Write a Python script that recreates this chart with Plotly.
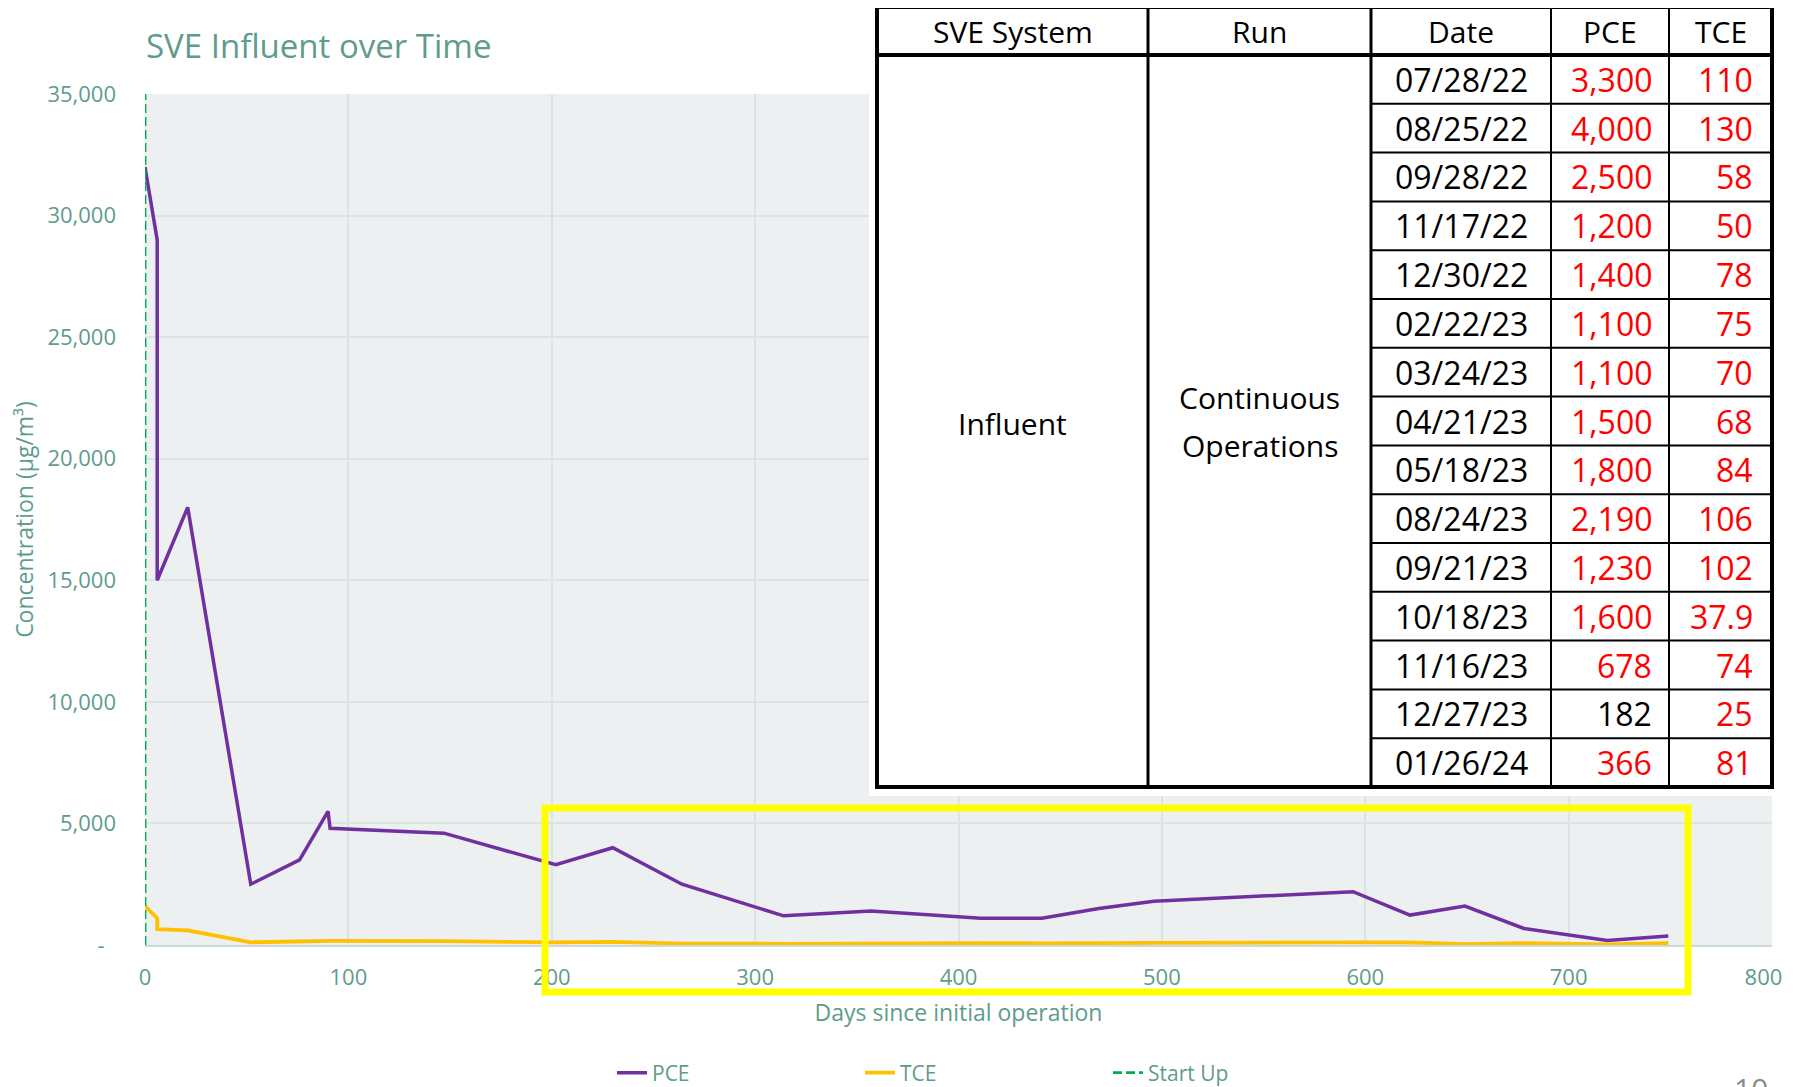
import plotly.graph_objects as go

# ---------------- chart data ----------------
pce_days = [0, 6, 6, 21, 52, 76, 90, 91, 147, 202, 230, 264, 314, 357, 411, 441,
            469, 496, 594, 622, 649, 678, 719, 749]
pce_vals = [32000, 29000, 15000, 18000, 2500, 3500, 5500, 4800, 4600, 3300, 4000,
            2500, 1200, 1400, 1100, 1100, 1500, 1800, 2190, 1230, 1600, 678, 182, 366]
tce_days = [0, 6, 6, 21, 52, 76, 90, 91, 147, 202, 230, 264, 314, 357, 411, 441,
            469, 496, 594, 622, 649, 678, 719, 749]
tce_vals = [1600, 1100, 650, 600, 110, 130, 180, 170, 160, 110, 130, 58, 50, 78,
            75, 70, 68, 84, 106, 102, 37.9, 74, 25, 81]
startup_x = [0, 0]
startup_y = [0, 35000]

x_ticks = [0, 100, 200, 300, 400, 500, 600, 700, 800]
x_ticklabels = ["0", "100", "200", "300", "400", "500", "600", "700", "800\u00a0\u00a0\u00a0"]
y_ticks = [0, 5000, 10000, 15000, 20000, 25000, 30000, 35000]
y_ticklabels = ["-\u00a0\u00a0", "5,000", "10,000", "15,000", "20,000", "25,000", "30,000", "35,000"]

# ---------------- table data ----------------
table_header = ["SVE System", "Run", "Date", "PCE", "TCE"]
table_system = "Influent"
table_run = ["Continuous", "Operations"]
table_dates = ["07/28/22", "08/25/22", "09/28/22", "11/17/22", "12/30/22", "02/22/23",
               "03/24/23", "04/21/23", "05/18/23", "08/24/23", "09/21/23", "10/18/23",
               "11/16/23", "12/27/23", "01/26/24"]
table_pce = ["3,300", "4,000", "2,500", "1,200", "1,400", "1,100", "1,100", "1,500",
             "1,800", "2,190", "1,230", "1,600", "678", "182", "366"]
table_tce = ["110", "130", "58", "50", "78", "75", "70", "68", "84", "106", "102",
             "37.9", "74", "25", "81"]
pce_flag_red = [1, 1, 1, 1, 1, 1, 1, 1, 1, 1, 1, 1, 1, 0, 1]

# ---------------- styling / geometry ----------------
# the page body has an 8px margin, so the figure is sized to fill the window from there
OFF = 8
W, H = 1795 - OFF, 1087 - OFF
# plot area in window pixels
L, R, T, B = 145, 1772, 94, 945
TEAL = "#5E9C8C"
FONT = "Open Sans"


def px(x):
    return (x - L) / (R - L)


def py(y):
    return (B - y) / (B - T)


fig = go.Figure()
fig.add_trace(go.Scatter(x=pce_days, y=pce_vals, mode="lines", name="PCE",
                         line=dict(color="#7030A0", width=3.5)))
fig.add_trace(go.Scatter(x=tce_days, y=tce_vals, mode="lines", name="TCE",
                         line=dict(color="#FFC000", width=3.8)))
fig.add_trace(go.Scatter(x=startup_x, y=startup_y, mode="lines", name="Start Up",
                         line=dict(color="#00B050", width=2.8, dash="9px,4px")))

shapes = []
annotations = []

# white background behind table
shapes.append(dict(type="rect", xref="paper", yref="paper", layer="above",
                   x0=px(869), x1=px(1800), y0=py(796), y1=py(0),
                   fillcolor="white", line=dict(width=0)))

col_edges = [877, 1148, 1371, 1551, 1669, 1772]
top_y, head_y, bot_y = 7, 55, 787
n = len(table_dates)
row_h = (bot_y - head_y) / n


def hline(x0, x1, y, w):
    shapes.append(dict(type="line", xref="paper", yref="paper", layer="above",
                       x0=px(x0), x1=px(x1), y0=py(y), y1=py(y),
                       line=dict(color="black", width=w)))


def vline(x, y0, y1, w):
    shapes.append(dict(type="line", xref="paper", yref="paper", layer="above",
                       x0=px(x), x1=px(x), y0=py(y0), y1=py(y1),
                       line=dict(color="black", width=w)))


# row separators in the right three columns
for i in range(1, n):
    y = head_y + i * row_h
    hline(col_edges[2], col_edges[5], y, 2)
# inner vertical lines
vline(col_edges[1], top_y, bot_y, 3)
vline(col_edges[2], top_y, bot_y, 3)
vline(col_edges[3], top_y, bot_y, 2)
vline(col_edges[4], top_y, bot_y, 2)
# header bottom
hline(col_edges[0], col_edges[5], head_y, 4)
# outer border
shapes.append(dict(type="rect", xref="paper", yref="paper", layer="above",
                   x0=px(col_edges[0]), x1=px(col_edges[5]), y0=py(bot_y), y1=py(top_y),
                   line=dict(color="black", width=4), fillcolor="rgba(0,0,0,0)"))

TFS = 30
DFS = 32
for j, h in enumerate(table_header):
    annotations.append(dict(xref="paper", yref="paper", x=px((col_edges[j] + col_edges[j + 1]) / 2),
                            y=py((top_y + head_y) / 2 + 1), text=h, showarrow=False,
                            xanchor="center", yanchor="middle",
                            font=dict(family=FONT, size=TFS, color="black")))

mid_y = (head_y + bot_y) / 2
annotations.append(dict(xref="paper", yref="paper", x=px((col_edges[0] + col_edges[1]) / 2),
                        y=py(mid_y + 2), text=table_system, showarrow=False,
                        xanchor="center", yanchor="middle",
                        font=dict(family=FONT, size=TFS, color="black")))
for k, t in enumerate(table_run):
    annotations.append(dict(xref="paper", yref="paper", x=px((col_edges[1] + col_edges[2]) / 2),
                            y=py(mid_y - 24 + 48 * k), text=t, showarrow=False,
                            xanchor="center", yanchor="middle",
                            font=dict(family=FONT, size=TFS, color="black")))

for i in range(n):
    yc = py(head_y + (i + 0.5) * row_h)
    annotations.append(dict(xref="paper", yref="paper", x=px((col_edges[2] + col_edges[3]) / 2),
                            y=yc, text=table_dates[i], showarrow=False,
                            xanchor="center", yanchor="middle",
                            font=dict(family=FONT, size=DFS, color="black")))
    annotations.append(dict(xref="paper", yref="paper", x=px(col_edges[4] - 15),
                            y=yc, text=table_pce[i], showarrow=False,
                            xanchor="right", yanchor="middle",
                            font=dict(family=FONT, size=DFS,
                                      color="#FF0000" if pce_flag_red[i] else "black")))
    annotations.append(dict(xref="paper", yref="paper", x=px(col_edges[5] - 17),
                            y=yc, text=table_tce[i], showarrow=False,
                            xanchor="right", yanchor="middle",
                            font=dict(family=FONT, size=DFS, color="#FF0000")))

# yellow highlight box
shapes.append(dict(type="rect", xref="paper", yref="paper", layer="above",
                   x0=px(545), x1=px(1688), y0=py(992), y1=py(808),
                   line=dict(color="#FFFF00", width=7), fillcolor="rgba(0,0,0,0)"))

# page number (partly cut by the slide edge, as in the source)
annotations.append(dict(xref="paper", yref="paper", x=px(1751), y=py(1066),
                        text="10", showarrow=False, xanchor="center", yanchor="top",
                        font=dict(family=FONT, size=30, color="#8A8A8A")))

fig.update_layout(
    width=W, height=H,
    margin=dict(l=L - OFF, r=W - (R - OFF), t=T - OFF, b=H - (B - OFF), pad=0,
                autoexpand=False),
    paper_bgcolor="white",
    plot_bgcolor="#ECF0F0",
    font=dict(family=FONT, color=TEAL, size=21),
    title=dict(text="SVE Influent over Time", x=(146 - OFF) / W, xref="container",
               xanchor="left", y=1 - (46 - OFF) / H, yanchor="middle",
               font=dict(family=FONT, size=33, color=TEAL)),
    xaxis=dict(range=[0, 800], tickvals=x_ticks, ticktext=x_ticklabels, showgrid=True,
               gridcolor="#DAE4E2", gridwidth=1.5, zeroline=False, showline=True,
               linecolor="#CCDAD7", linewidth=2, ticklabeloverflow="allow",
               ticks="", ticklabelstandoff=12, automargin=False,
               tickfont=dict(family=FONT, size=22, color=TEAL),
               title=dict(text="Days since initial operation", standoff=14,
                          font=dict(family=FONT, size=23, color=TEAL))),
    yaxis=dict(range=[0, 35000], tickvals=y_ticks, ticktext=y_ticklabels, showgrid=True,
               gridcolor="#DAE4E2", gridwidth=1.5, zeroline=False, ticks="",
               ticklabelstandoff=28, automargin=False, ticklabeloverflow="allow",
               tickfont=dict(family=FONT, size=22, color=TEAL),
               title=dict(text="Concentration (µg/m³)", standoff=12,
                          font=dict(family=FONT, size=23, color=TEAL))),
    legend=dict(orientation="h", x=px(612), xanchor="left", y=py(1073), yanchor="middle",
                font=dict(family=FONT, size=21, color=TEAL), entrywidth=203,
                entrywidthmode="pixels", bgcolor="rgba(0,0,0,0)"),
    shapes=shapes,
    annotations=annotations,
)

fig.write_html("out.html")
